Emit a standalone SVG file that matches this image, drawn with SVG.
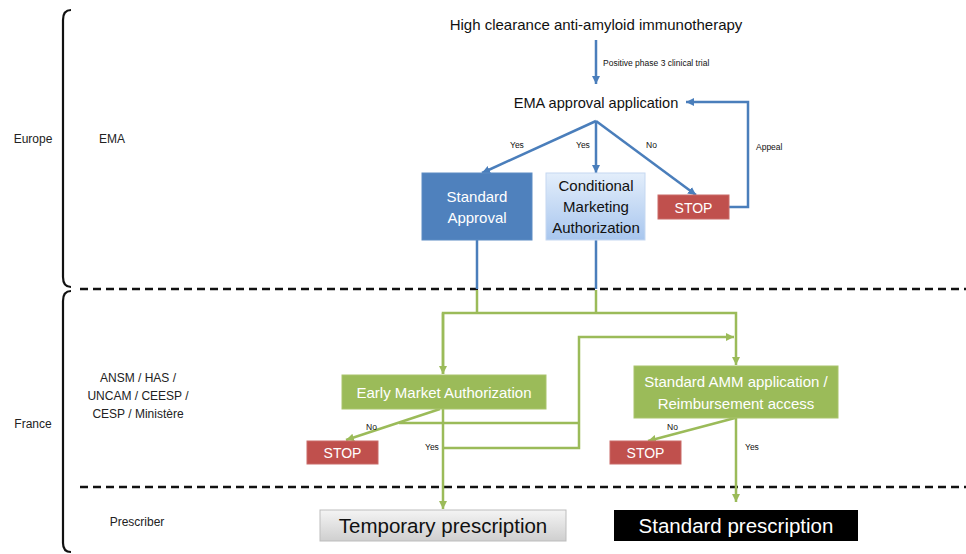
<svg xmlns="http://www.w3.org/2000/svg" width="966" height="554" viewBox="0 0 966 554">
<defs>
<style>
text{font-family:"Liberation Sans","Open Sans",Arial,sans-serif;text-anchor:middle}
.lbl{font-size:12px;fill:#222}
.sm{font-size:8.5px;fill:#111;text-anchor:start}
.box{font-size:15px;fill:#fff}
.dark{font-size:15px;fill:#111}
.blue{stroke:#4A7EBB;stroke-width:2.5;fill:none}
.green{stroke:#9BBB59;stroke-width:2.5;fill:none}
.dash{stroke:#111;stroke-width:2.5;stroke-dasharray:8,5}
.brace{stroke:#111;stroke-width:2.2;fill:none}
.stop{fill:#C0504D;stroke:#c96b68;stroke-width:1}
.gbox{fill:#9BBB59;stroke:#a9c46d;stroke-width:1}
</style>
<marker id="ab" markerUnits="userSpaceOnUse" markerWidth="10" markerHeight="10" refX="8" refY="4" orient="auto"><path d="M0,0 L8,4 L0,8 z" fill="#4A7EBB"/></marker>
<marker id="ag" markerUnits="userSpaceOnUse" markerWidth="10" markerHeight="10" refX="8" refY="4" orient="auto"><path d="M0,0 L8,4 L0,8 z" fill="#9BBB59"/></marker>
<linearGradient id="lb" x1="0" y1="0" x2="0" y2="1"><stop offset="0" stop-color="#e3eefb"/><stop offset="1" stop-color="#a8c6ee"/></linearGradient>
<linearGradient id="gr" x1="0" y1="0" x2="0" y2="1"><stop offset="0" stop-color="#f4f4f4"/><stop offset="1" stop-color="#cfcfcf"/></linearGradient>
</defs>

<g id="regions">
<path class="brace" d="M71,10 Q63,10 63,20 L63,277 Q63,287 71,287"/>
<path class="brace" d="M71,291 Q63,291 63,301 L63,543 Q63,552 71,552"/>
<line class="dash" x1="80" y1="289" x2="966" y2="289"/>
<line class="dash" x1="80" y1="487" x2="966" y2="487"/>
<text class="lbl" x="33" y="143">Europe</text>
<text class="lbl" x="112" y="143">EMA</text>
<text class="lbl" x="33" y="428">France</text>
<text class="lbl" x="138" y="382">ANSM / HAS /</text>
<text class="lbl" x="138" y="400">UNCAM / CEESP /</text>
<text class="lbl" x="138" y="418">CESP / Ministère</text>
<text class="lbl" x="137" y="526">Prescriber</text>
</g>

<g id="connectors">
<line class="blue" x1="596" y1="40" x2="596" y2="84" marker-end="url(#ab)"/>
<polyline class="blue" points="729,207 748,207 748,102 686,102" marker-end="url(#ab)"/>
<line class="blue" x1="596" y1="121" x2="482" y2="173" marker-end="url(#ab)"/>
<line class="blue" x1="596" y1="121" x2="596" y2="173" marker-end="url(#ab)"/>
<line class="blue" x1="596" y1="121" x2="696" y2="195" marker-end="url(#ab)"/>
<line class="blue" x1="477" y1="240" x2="477" y2="289"/>
<line class="blue" x1="596" y1="240" x2="596" y2="289"/>
<line class="green" x1="477" y1="290" x2="477" y2="313"/>
<line class="green" x1="596" y1="290" x2="596" y2="313"/>
<polyline class="green" points="443,374 443,313 736,313 736,365" marker-end="url(#ag)"/>
<line class="green" x1="443" y1="313" x2="443" y2="374" marker-end="url(#ag)"/>
<polyline class="green" points="443,448 579,448 579,337 734,337" marker-end="url(#ag)"/>
<polyline class="green" points="399,423 579,423"/>
<line class="green" x1="440" y1="409" x2="346" y2="440" marker-end="url(#ag)"/>
<line class="green" x1="443" y1="409" x2="443" y2="509" marker-end="url(#ag)"/>
<line class="green" x1="735" y1="418" x2="648" y2="441" marker-end="url(#ag)"/>
<line class="green" x1="736" y1="418" x2="736" y2="502" marker-end="url(#ag)"/>
<text class="sm" x="603" y="66">Positive phase 3 clinical trial</text>
<text class="sm" x="510" y="148">Yes</text>
<text class="sm" x="576" y="148">Yes</text>
<text class="sm" x="646" y="148">No</text>
<text class="sm" x="756" y="150">Appeal</text>
<text class="sm" x="366" y="430">No</text>
<text class="sm" x="425" y="450">Yes</text>
<text class="sm" x="667" y="430">No</text>
<text class="sm" x="745" y="450">Yes</text>
</g>

<g id="n-title"><text x="596" y="30" style="font-size:15px;fill:#111">High clearance anti-amyloid immunotherapy</text></g>
<g id="n-ema"><text x="596" y="108" style="font-size:14.6px;fill:#111">EMA approval application</text></g>
<g id="n-standard-approval">
<rect x="422" y="173" width="110" height="67" fill="#4F81BD" stroke="#5d8cc4" stroke-width="1"/>
<text class="box" x="477" y="202">Standard</text>
<text class="box" x="477" y="223">Approval</text>
</g>
<g id="n-cma">
<rect x="546" y="173" width="99" height="67" fill="url(#lb)" stroke="#c5d8f1" stroke-width="1"/>
<text class="dark" x="596" y="191">Conditional</text>
<text class="dark" x="596" y="212">Marketing</text>
<text class="dark" x="596" y="233">Authorization</text>
</g>
<g id="n-stop1">
<rect class="stop" x="658" y="195" width="71" height="24"/>
<text class="box" x="693.5" y="212.5" style="font-size:14px">STOP</text>
</g>
<g id="n-early">
<rect class="gbox" x="342" y="375" width="204" height="34"/>
<text class="box" x="444" y="398">Early Market Authorization</text>
</g>
<g id="n-stop2">
<rect class="stop" x="307" y="441" width="71" height="23"/>
<text class="box" x="342.5" y="458" style="font-size:14px">STOP</text>
</g>
<g id="n-amm">
<rect class="gbox" x="634" y="366" width="204" height="52"/>
<text class="box" x="736" y="387">Standard AMM application /</text>
<text class="box" x="736" y="409">Reimbursement access</text>
</g>
<g id="n-stop3">
<rect class="stop" x="610" y="441" width="71" height="23"/>
<text class="box" x="645.5" y="458" style="font-size:14px">STOP</text>
</g>
<g id="n-temp">
<rect x="320" y="510" width="246" height="31" fill="url(#gr)" stroke="#bdbdbd" stroke-width="1"/>
<text x="443" y="533" style="font-size:20.5px;fill:#111">Temporary prescription</text>
</g>
<g id="n-std-presc">
<rect x="614" y="510" width="244" height="31" fill="#000"/>
<text x="736" y="533" style="font-size:20.5px;fill:#fff">Standard prescription</text>
</g>
</svg>
